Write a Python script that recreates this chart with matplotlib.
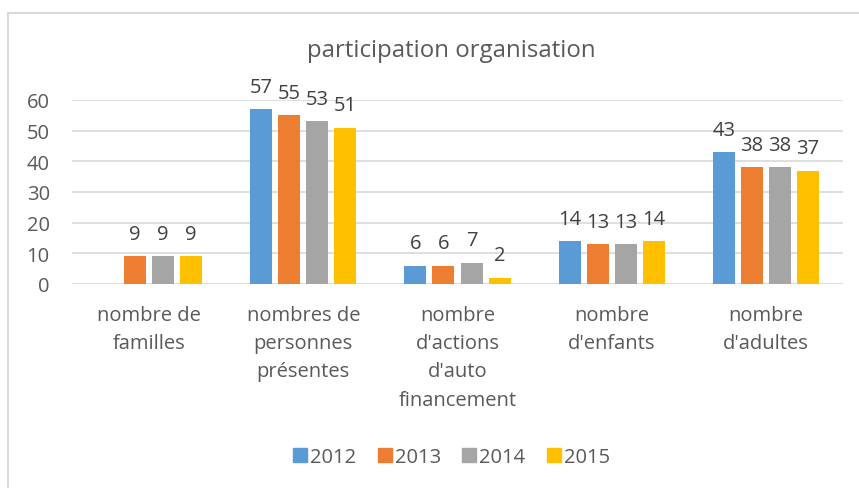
import numpy as np
import matplotlib.pyplot as plt
from matplotlib.lines import Line2D

plt.rcParams['font.family'] = ['Open Sans', 'DejaVu Sans']

categories = ["nombre de\nfamilles", "nombres de\npersonnes\nprésentes",
              "nombre\nd'actions\nd'auto\nfinancement", "nombre\nd'enfants",
              "nombre\nd'adultes"]
years = ["2012", "2013", "2014", "2015"]
v2012 = [np.nan, 57, 6, 14, 43]
v2013 = [9, 55, 6, 13, 38]
v2014 = [9, 53, 7, 13, 38]
v2015 = [9, 51, 2, 14, 37]
series = [v2012, v2013, v2014, v2015]
colors = ['#5B9BD5', '#ED7D31', '#A5A5A5', '#FFC000']

W, H = 859, 489
fig = plt.figure(figsize=(W / 100, H / 100), dpi=100)
ax = fig.add_axes([72 / W, 1 - 285 / H, (843 - 72) / W, (285 - 101) / H])

x = np.arange(len(categories))
pitch = 0.182
width = 0.143
for i, (vals, c, yr) in enumerate(zip(series, colors, years)):
    pos = x + (i - 1.5) * pitch
    ax.bar(pos, vals, width, color=c, label=yr, zorder=2)
    for px, v in zip(pos, vals):
        if np.isnan(v):
            continue
        ax.annotate(str(int(v)), (px, v), xytext=(0, 9), textcoords='offset points',
                    ha='center', va='bottom', fontsize=14.5, color='#404040',
                    annotation_clip=False)

ax.set_xlim(-0.5, len(categories) - 0.5)
ax.set_ylim(0, 60)
ax.set_yticks(np.arange(0, 61, 10))
ax.set_xticks(x)
ax.set_xticklabels(categories, linespacing=1.55)
ax.tick_params(axis='x', length=0, pad=15, labelsize=14.5, labelcolor='#595959')
ax.tick_params(axis='y', length=0, pad=16, labelsize=14.5, labelcolor='#595959')
for lab in ax.get_xticklabels():
    lab.set_verticalalignment('top')
ax.grid(axis='y', color='#D9D9D9', linewidth=1.2, zorder=0)
for s in ax.spines.values():
    s.set_visible(False)
ax.axhline(0, color='#D9D9D9', linewidth=1.2, zorder=1)

fig.text(451 / W, 1 - 51 / H, 'participation organisation', ha='center', va='center',
         fontsize=17.3, color='#595959')

handles = [Line2D([], [], marker='s', linestyle='none', markersize=10,
                  markerfacecolor=c, markeredgecolor=c) for c in colors]
fig.legend(handles, years, loc='center', bbox_to_anchor=(451 / W, 1 - 458 / H),
           ncol=4, frameon=False, fontsize=14.5, handletextpad=0.1,
           columnspacing=1.0, labelcolor='#595959', handlelength=0.8)

# chart frame (top and left edges visible)
fig.add_artist(Line2D([8 / W, 1], [1 - 14 / H, 1 - 14 / H], transform=fig.transFigure,
                      color='#D9D9D9', linewidth=1.5))
fig.add_artist(Line2D([8 / W, 8 / W], [0, 1 - 14 / H], transform=fig.transFigure,
                      color='#D9D9D9', linewidth=1.5))

fig.savefig('out.png', dpi=100)
